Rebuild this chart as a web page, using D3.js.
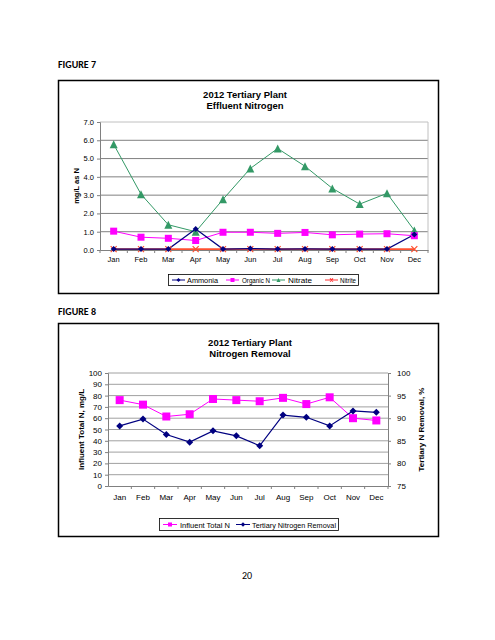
<!DOCTYPE html>
<html><head><meta charset="utf-8">
<script src="https://cdnjs.cloudflare.com/ajax/libs/d3/7.8.5/d3.min.js"></script>
<style>body{margin:0;background:#fff}svg{display:block}</style>
</head><body>
<svg id="c" width="495" height="640"></svg>
<script>
const months = ["Jan","Feb","Mar","Apr","May","Jun","Jul","Aug","Sep","Oct","Nov","Dec"];
// Figure 7
const ammonia  = [0.05,0.05,0.05,1.15,0.05,0.08,0.05,0.06,0.05,0.05,0.05,0.85];
const organicN = [1.03,0.70,0.64,0.52,0.97,0.97,0.91,0.96,0.83,0.87,0.89,0.78];
const nitrate  = [5.78,3.05,1.38,1.00,2.77,4.46,5.55,4.58,3.37,2.51,3.10,1.07];
const nitrite  = [0.05,0.05,0.05,0.05,0.05,0.05,0.05,0.05,0.05,0.05,0.05,0.05];
const fig7Ticks = [0,1,2,3,4,5,6,7];
// Figure 8
const influentN = [76,72,61.5,63.5,77,76,75,78,72.5,78.5,60,58];
const removalPct = [88.3,89.8,86.4,84.7,87.2,86.1,83.9,90.7,90.2,88.3,91.6,91.3];
const fig8LeftTicks = [0,10,20,30,40,50,60,70,80,90,100];
const fig8RightTicks = [75,80,85,90,95,100];

const svg = d3.select("#c");
const FONT = "Liberation Sans, Arial, sans-serif";

function marker(g, type, x, y, color, s) {
  if (type === "square") {
    g.append("rect").attr("x", x - s/2).attr("y", y - s/2).attr("width", s).attr("height", s).attr("fill", color);
  } else if (type === "diamond") {
    g.append("path").attr("d", `M${x},${y-s/2}L${x+s/2},${y}L${x},${y+s/2}L${x-s/2},${y}Z`).attr("fill", color);
  } else if (type === "triangle") {
    g.append("path").attr("d", `M${x},${y-s/2}L${x+s/2},${y+s/2}L${x-s/2},${y+s/2}Z`).attr("fill", color);
  } else if (type === "x") {
    g.append("path").attr("d", `M${x-s/2},${y-s/2}L${x+s/2},${y+s/2}M${x-s/2},${y+s/2}L${x+s/2},${y-s/2}`).attr("stroke", color).attr("stroke-width", 1.2);
  }
}

// page labels
svg.append("text").attr("x", 58).attr("y", 68).attr("font-family", "Carlito, Liberation Sans, sans-serif").attr("font-weight", "bold").attr("font-size", 10).text("FIGURE 7");
svg.append("text").attr("x", 58).attr("y", 315).attr("font-family", "Carlito, Liberation Sans, sans-serif").attr("font-weight", "bold").attr("font-size", 10).text("FIGURE 8");
svg.append("text").attr("x", 247).attr("y", 579).attr("text-anchor", "middle").attr("font-family", "Carlito, Liberation Sans, sans-serif").attr("font-size", 10).text("20");

// ---------- Figure 7 ----------
{
  const g = svg.append("g");
  g.append("rect").attr("x", 58.5).attr("y", 80.5).attr("width", 380).attr("height", 213).attr("fill", "#fff").attr("stroke", "#000").attr("stroke-width", 1.5);
  const x = d3.scaleBand().domain(months).range([100, 428]);
  const y = d3.scaleLinear().domain([0, 7]).range([250, 122]);
  g.selectAll(".gl").data(fig7Ticks.slice(1)).enter().append("line")
    .attr("x1", 100).attr("x2", 428).attr("y1", d => y(d)).attr("y2", d => y(d))
    .attr("stroke", d => d === 7 ? "#c0c0c0" : "#808080").attr("stroke-width", 1);
  g.append("line").attr("x1", 428).attr("x2", 428).attr("y1", y(7)).attr("y2", y(0)).attr("stroke", "#c0c0c0");
  const ya = g.append("g").attr("transform", "translate(100,0)")
    .call(d3.axisLeft(y).tickValues(fig7Ticks).tickFormat(d3.format(".1f")).tickSize(3));
  ya.select(".domain").attr("stroke", "#808080");
  ya.selectAll("line").attr("stroke", "#808080");
  ya.selectAll("text").attr("font-family", FONT).attr("font-size", 7.5).attr("fill", "#000");
  const xa = g.append("g").attr("transform", `translate(0,${y(0)})`)
    .call(d3.axisBottom(x).tickSize(0).tickPadding(7));
  xa.select(".domain").attr("stroke", "#808080");
  xa.selectAll("text").attr("font-family", FONT).attr("font-size", 7.5).attr("fill", "#000");
  g.selectAll(".xt").data(months).enter().append("line")
    .attr("x1", d => x(d) + x.bandwidth()).attr("x2", d => x(d) + x.bandwidth())
    .attr("y1", y(0)).attr("y2", y(0) + 3).attr("stroke", "#808080");
  g.append("line").attr("x1", 100).attr("x2", 100).attr("y1", y(0)).attr("y2", y(0) + 3).attr("stroke", "#808080");
  g.append("text").attr("x", 245).attr("y", 98).attr("text-anchor", "middle").attr("font-family", FONT).attr("font-weight", "bold").attr("font-size", 9.5).text("2012 Tertiary Plant");
  g.append("text").attr("x", 245).attr("y", 109).attr("text-anchor", "middle").attr("font-family", FONT).attr("font-weight", "bold").attr("font-size", 9.5).text("Effluent Nitrogen");
  g.append("text").attr("transform", `translate(79,${(y(0)+y(7))/2}) rotate(-90)`).attr("text-anchor", "middle")
    .attr("font-family", FONT).attr("font-weight", "bold").attr("font-size", 7.5).text("mg/L as N");
  const cx = d => x(d) + x.bandwidth() / 2;
  const series = [
    {name: "Nitrite", vals: nitrite, color: "#ff5030", m: "x", s: 6, lw: 1.6},
    {name: "Nitrate", vals: nitrate, color: "#339966", m: "triangle", s: 8, lw: 1},
    {name: "Organic N", vals: organicN, color: "#ff00ff", m: "square", s: 7, lw: 1},
    {name: "Ammonia", vals: ammonia, color: "#000080", m: "diamond", s: 6, lw: 1.2}
  ];
  series.forEach(sr => {
    const line = d3.line().x((d, i) => cx(months[i])).y(d => y(d));
    g.append("path").attr("d", line(sr.vals)).attr("fill", "none").attr("stroke", sr.color).attr("stroke-width", sr.lw);
  });
  series.forEach(sr => {
    sr.vals.forEach((v, i) => marker(g, sr.m, cx(months[i]), y(v), sr.color, sr.s));
  });
  g.append("rect").attr("x", 168.5).attr("y", 274.5).attr("width", 190).attr("height", 11).attr("fill", "#fff").attr("stroke", "#000").attr("stroke-width", 0.8);
  const leg = [
    {name: "Ammonia", color: "#000080", m: "diamond", s: 4, x0: 172, tx: 187, w: 31},
    {name: "Organic N", color: "#ff00ff", m: "square", s: 4, x0: 226, tx: 242, w: 28},
    {name: "Nitrate", color: "#339966", m: "triangle", s: 4, x0: 272, tx: 288, w: 24},
    {name: "Nitrite", color: "#ff3030", m: "x", s: 3, x0: 325, tx: 340, w: 16}
  ];
  leg.forEach(l => {
    g.append("line").attr("x1", l.x0).attr("x2", l.x0 + 13).attr("y1", 280).attr("y2", 280).attr("stroke", l.color).attr("stroke-width", 1);
    marker(g, l.m, l.x0 + 6.5, 280, l.color, l.s);
    g.append("text").attr("x", l.tx).attr("y", 282.5).attr("font-family", FONT).attr("font-size", 6.8)
      .attr("textLength", l.w).attr("lengthAdjust", "spacingAndGlyphs").text(l.name);
  });
}

// ---------- Figure 8 ----------
{
  const g = svg.append("g");
  g.append("rect").attr("x", 58.5).attr("y", 323.5).attr("width", 380).attr("height", 213).attr("fill", "#fff").attr("stroke", "#000").attr("stroke-width", 1.5);
  const x = d3.scaleBand().domain(months).range([108, 388]);
  const yl = d3.scaleLinear().domain([0, 100]).range([486, 373]);
  const yr = d3.scaleLinear().domain([75, 100]).range([486, 373]);
  g.selectAll(".gl").data(fig8LeftTicks.slice(1)).enter().append("line")
    .attr("x1", 108).attr("x2", 388).attr("y1", d => yl(d)).attr("y2", d => yl(d))
    .attr("stroke", "#a0a0a0").attr("stroke-width", 1);
  const la = g.append("g").attr("transform", "translate(108,0)")
    .call(d3.axisLeft(yl).tickValues(fig8LeftTicks).tickSize(3));
  la.select(".domain").attr("stroke", "#808080");
  la.selectAll("line").attr("stroke", "#808080");
  la.selectAll("text").attr("font-family", FONT).attr("font-size", 8).attr("fill", "#000");
  const ra = g.append("g").attr("transform", "translate(388,0)")
    .call(d3.axisRight(yr).tickValues(fig8RightTicks).tickSize(3).tickPadding(6));
  ra.select(".domain").attr("stroke", "#808080");
  ra.selectAll("line").attr("stroke", "#808080");
  ra.selectAll("text").attr("font-family", FONT).attr("font-size", 8).attr("fill", "#000");
  const xa = g.append("g").attr("transform", `translate(0,${yl(0)})`)
    .call(d3.axisBottom(x).tickSize(0).tickPadding(8));
  xa.select(".domain").attr("stroke", "#808080");
  xa.selectAll("text").attr("font-family", FONT).attr("font-size", 8).attr("fill", "#000");
  g.selectAll(".xt").data(months).enter().append("line")
    .attr("x1", d => x(d) + x.bandwidth()).attr("x2", d => x(d) + x.bandwidth())
    .attr("y1", yl(0)).attr("y2", yl(0) + 3).attr("stroke", "#808080");
  g.append("text").attr("x", 250).attr("y", 346).attr("text-anchor", "middle").attr("font-family", FONT).attr("font-weight", "bold").attr("font-size", 9.5).text("2012 Tertiary Plant");
  g.append("text").attr("x", 250).attr("y", 357).attr("text-anchor", "middle").attr("font-family", FONT).attr("font-weight", "bold").attr("font-size", 9.5).text("Nitrogen Removal");
  g.append("text").attr("transform", `translate(84,${(yl(0)+yl(100))/2}) rotate(-90)`).attr("text-anchor", "middle")
    .attr("font-family", FONT).attr("font-weight", "bold").attr("font-size", 8).text("Influent Total N, mg/L");
  g.append("text").attr("transform", `translate(424,${(yl(0)+yl(100))/2}) rotate(-90)`).attr("text-anchor", "middle")
    .attr("font-family", FONT).attr("font-weight", "bold").attr("font-size", 8).text("Tertiary N Removal, %");
  const cx = d => x(d) + x.bandwidth() / 2;
  const l1 = d3.line().x((d, i) => cx(months[i])).y(d => yl(d));
  const l2 = d3.line().x((d, i) => cx(months[i])).y(d => yr(d));
  g.append("path").attr("d", l1(influentN)).attr("fill", "none").attr("stroke", "#ff00ff").attr("stroke-width", 1);
  g.append("path").attr("d", l2(removalPct)).attr("fill", "none").attr("stroke", "#000080").attr("stroke-width", 1.2);
  influentN.forEach((v, i) => marker(g, "square", cx(months[i]), yl(v), "#ff00ff", 8));
  removalPct.forEach((v, i) => marker(g, "diamond", cx(months[i]), yr(v), "#000080", 7));
  g.append("rect").attr("x", 159.5).attr("y", 518.5).attr("width", 179).attr("height", 12).attr("fill", "#fff").attr("stroke", "#000").attr("stroke-width", 0.8);
  const leg = [
    {name: "Influent Total N", color: "#ff00ff", m: "square", s: 4, x0: 163, tx: 180, w: 50},
    {name: "Tertiary Nitrogen Removal", color: "#000080", m: "diamond", s: 4.5, x0: 236, tx: 252, w: 84}
  ];
  leg.forEach(l => {
    g.append("line").attr("x1", l.x0).attr("x2", l.x0 + 14).attr("y1", 524.5).attr("y2", 524.5).attr("stroke", l.color).attr("stroke-width", 1);
    marker(g, l.m, l.x0 + 7, 524.5, l.color, l.s);
    g.append("text").attr("x", l.tx).attr("y", 527.5).attr("font-family", FONT).attr("font-size", 7.5)
      .attr("textLength", l.w).attr("lengthAdjust", "spacingAndGlyphs").text(l.name);
  });
}
</script>
</body></html>
